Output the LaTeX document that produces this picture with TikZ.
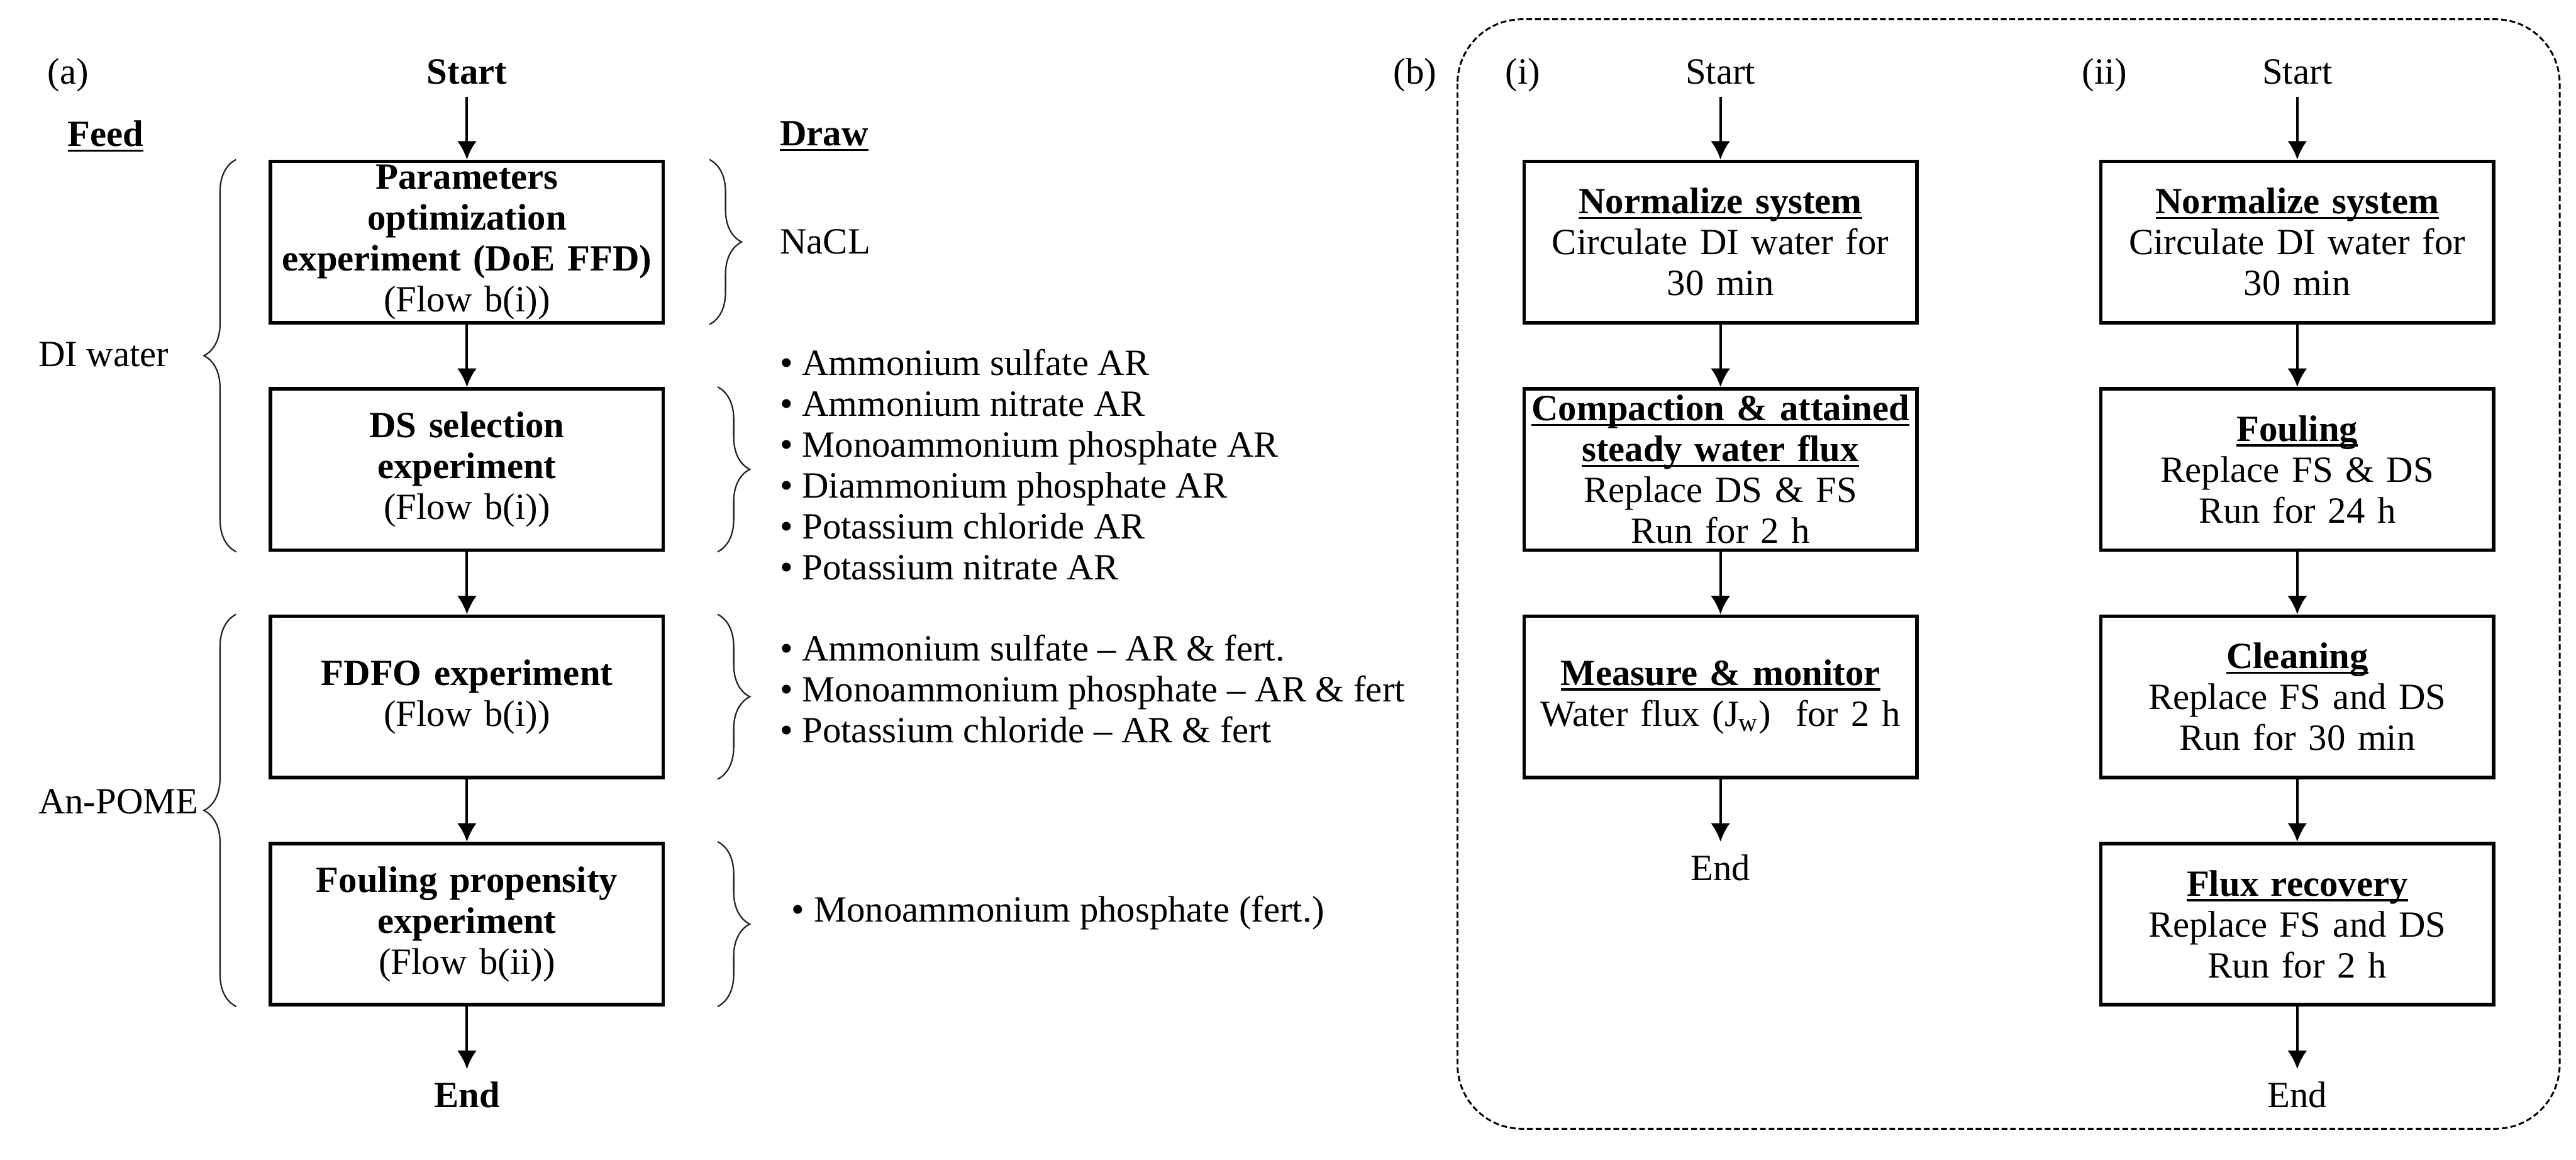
\documentclass[tikz,border=0pt]{standalone}
\usepackage{fontspec}
\setmainfont{Liberation Serif}
\usepackage{tikz}
\usetikzlibrary{arrows.meta, positioning, decorations.pathreplacing}
\newsavebox{\uheadbox}
\newcommand{\uhead}[1]{\sbox{\uheadbox}{\textbf{#1}}\leavevmode\rlap{\rule[-2.6pt]{\wd\uheadbox}{1pt}}\usebox{\uheadbox}}

\begin{document}
\fontsize{18pt}{19.9pt}\selectfont
\begin{tikzpicture}[
    node distance=1.07cm,
    block/.style={rectangle, draw, line width=1.7pt, text width=6.5cm, align=center, minimum height=2.76cm, inner xsep=0.11cm, inner ysep=0pt},
    line/.style={draw, line width=1.25pt, -{Latex[length=9pt, width=9.5pt]}},
    brace/.style={decorate, decoration={brace, amplitude=0.55cm}, line width=0.7pt, black!85},
    plain/.style={inner sep=0pt},
    frame/.style={draw, line width=0.9pt, dash pattern=on 2.8pt off 1.4pt, rounded corners=1.1cm}
]
\useasboundingbox (0,0) rectangle (44.08,-19.84);

\node [plain, anchor=west] (laba) at (0.81,-1.28) {(a)};
\node [plain, anchor=west] (feed) at (1.15,-2.33) {\uhead{Feed}};
\node [plain, anchor=west] (draw) at (13.34,-2.33) {\uhead{Draw}};

\node [block] (param) at (7.99,-4.14) {{\bfseries Parameters\\optimization\\experiment (DoE FFD)}\\(Flow b(i))};
\node [block, below=of param] (dssel) {{\bfseries DS selection\\experiment}\\(Flow b(i))};
\node [block, below=of dssel] (fdfo) {{\bfseries FDFO experiment}\\(Flow b(i))};
\node [block, below=of fdfo] (foul) {{\bfseries Fouling propensity\\experiment}\\(Flow b(ii))};
\node [above=of param] (starta) {\textbf{Start}};
\node [below=of foul] (enda) {\textbf{End}};

\path [line] (starta) -- (param);
\path [line] (param) -- (dssel);
\path [line] (dssel) -- (fdfo);
\path [line] (fdfo) -- (foul);
\path [line] (foul) -- (enda);

\draw [brace] ([xshift=-0.56cm]dssel.south west) -- ([xshift=-0.56cm]param.north west);
\draw [brace] ([xshift=-0.56cm]foul.south west) -- ([xshift=-0.56cm]fdfo.north west);
\node [plain, anchor=west] (diwater) at (0.65,-6.06) {DI water};
\node [plain, anchor=west] (anpome) at (0.65,-13.71) {An-POME};

\draw [brace] ([xshift=0.76cm]param.north east) -- ([xshift=0.76cm]param.south east);
\draw [brace] ([xshift=0.9cm]dssel.north east) -- ([xshift=0.9cm]dssel.south east);
\draw [brace] ([xshift=0.9cm]fdfo.north east) -- ([xshift=0.9cm]fdfo.south east);
\draw [brace] ([xshift=0.9cm]foul.north east) -- ([xshift=0.9cm]foul.south east);

\node [plain, anchor=west] (nacl) at (13.34,-4.14) {NaCL};
\node [plain, anchor=west, align=left] (dslist) at (13.34,-7.95) {• Ammonium sulfate AR\\• Ammonium nitrate AR\\• Monoammonium phosphate AR\\• Diammonium phosphate AR\\• Potassium chloride AR\\• Potassium nitrate AR};
\node [plain, anchor=west, align=left] (fdfolist) at (13.34,-11.78) {• Ammonium sulfate – AR \& fert.\\• Monoammonium phosphate – AR \& fert\\• Potassium chloride – AR \& fert};
\node [plain, anchor=west] (foullist) at (13.54,-15.62) {• Monoammonium phosphate (fert.)};

\draw [frame] (24.94,-0.33) rectangle (43.80,-19.31);
\node [plain, anchor=west] (labb) at (23.84,-1.28) {(b)};
\node [plain, anchor=west] (labi) at (25.75,-1.28) {(i)};
\node [plain, anchor=west] (labii) at (35.62,-1.28) {(ii)};

\node [block] (normi) at (29.44,-4.14) {\uhead{Normalize system}\\Circulate DI water for\\30 min};
\node [block, below=of normi] (compact) {\uhead{Compaction \& attained}\\\uhead{steady water flux}\\Replace DS \& FS\\Run for 2 h};
\node [block, below=of compact] (measure) {\uhead{Measure \& monitor}\\Water flux (J\textsubscript{w})\ \ for 2 h};
\node [above=of normi] (starti) {Start};
\node [below=of measure] (endi) {End};

\path [line] (starti) -- (normi);
\path [line] (normi) -- (compact);
\path [line] (compact) -- (measure);
\path [line] (measure) -- (endi);

\node [block] (normii) at (39.31,-4.14) {\uhead{Normalize system}\\Circulate DI water for\\30 min};
\node [block, below=of normii] (fouling) {\uhead{Fouling}\\Replace FS \& DS\\Run for 24 h};
\node [block, below=of fouling] (clean) {\uhead{Cleaning}\\Replace FS and DS\\Run for 30 min};
\node [block, below=of clean] (recover) {\uhead{Flux recovery}\\Replace FS and DS\\Run for 2 h};
\node [above=of normii] (startii) {Start};
\node [below=of recover] (endii) {End};

\path [line] (startii) -- (normii);
\path [line] (normii) -- (fouling);
\path [line] (fouling) -- (clean);
\path [line] (clean) -- (recover);
\path [line] (recover) -- (endii);
\end{tikzpicture}
\end{document}
